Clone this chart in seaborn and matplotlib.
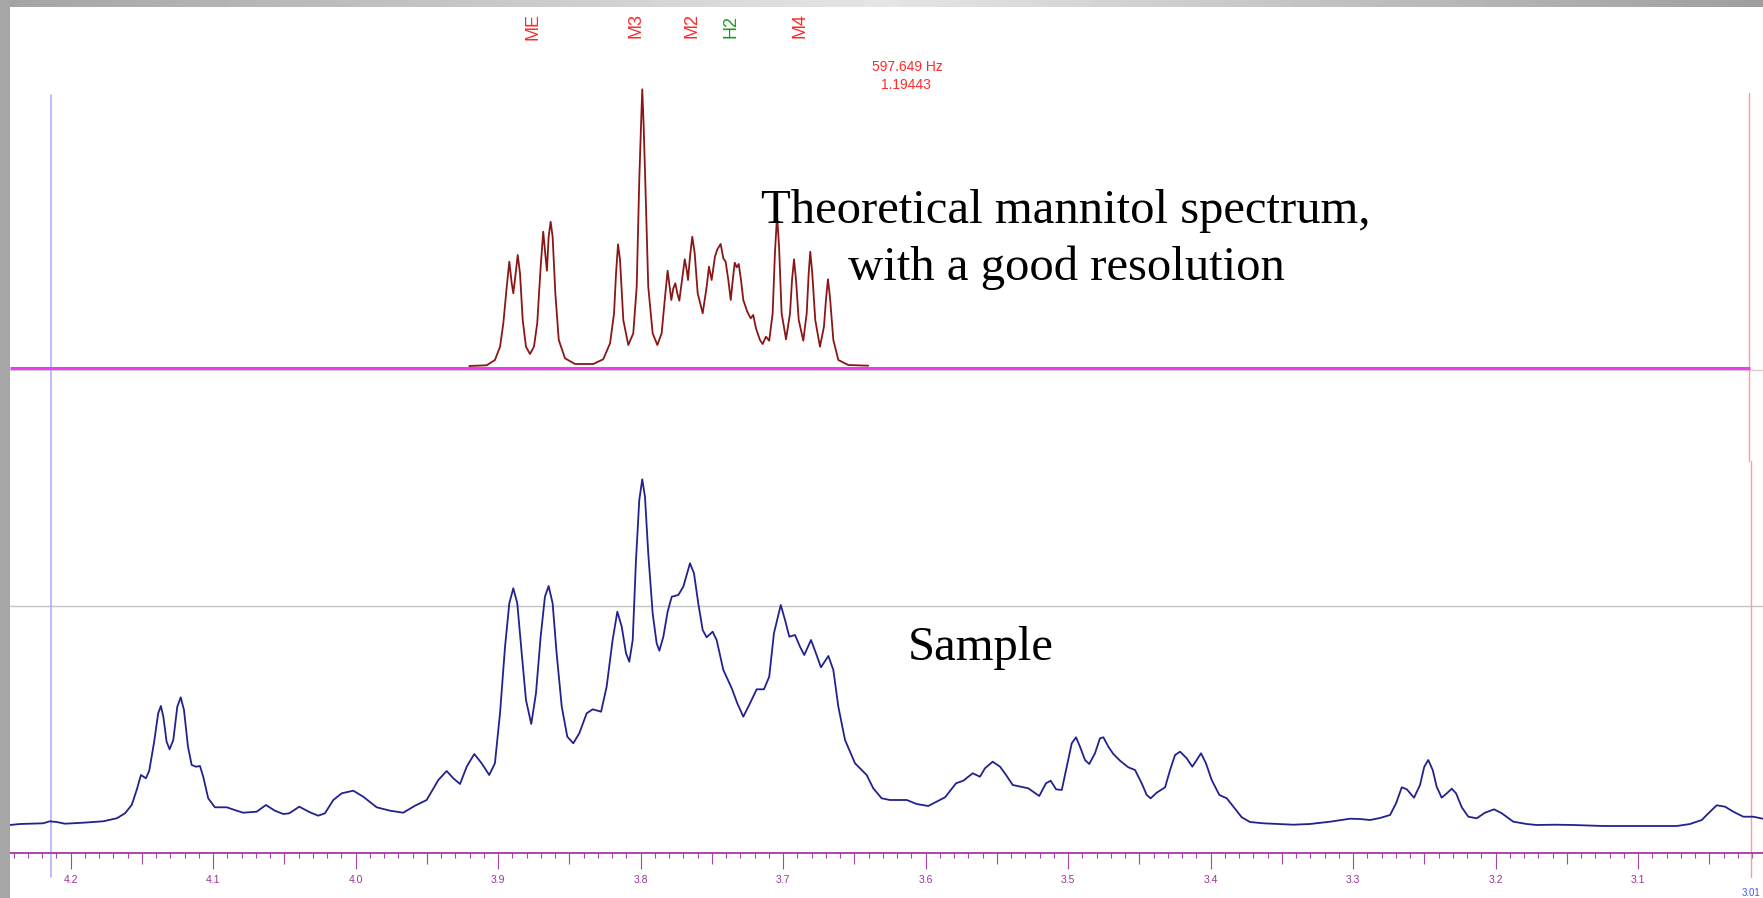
import numpy as np
import matplotlib
matplotlib.use("Agg")
import matplotlib.pyplot as plt
from matplotlib.ticker import MultipleLocator, FormatStrFormatter
from matplotlib.patches import Rectangle
import seaborn as sns

# ---------------- data ----------------
# Sample spectrum: chemical shift (ppm) and intensity (arbitrary units)
sample_ppm = [4.2425, 4.2355, 4.2192, 4.2145, 4.2098, 4.2039, 4.1911, 4.1771, 4.1676, 4.1618,
              4.1571, 4.1536, 4.1506, 4.1471, 4.1448, 4.1415, 4.1385, 4.1366, 4.1349, 4.1326,
              4.1305, 4.1279, 4.1251, 4.1227, 4.1204, 4.1176, 4.1150, 4.1120, 4.1092, 4.1069,
              4.1034, 4.0987, 4.0904, 4.0834, 4.0788, 4.0694, 4.0629, 4.0566, 4.0507, 4.0465,
              4.0395, 4.0320, 4.0262, 4.0215, 4.0156, 4.0097, 4.0016, 3.9946, 3.9852, 3.9758,
              3.9665, 3.9583, 3.9501, 3.9419, 3.9361, 3.9314, 3.9267, 3.9220, 3.9167, 3.9115,
              3.9062, 3.9022, 3.8986, 3.8951, 3.8921, 3.8893, 3.8865, 3.8834, 3.8804, 3.8767,
              3.8734, 3.8701, 3.8671, 3.8645, 3.8617, 3.8589, 3.8553, 3.8514, 3.8472, 3.8430,
              3.8378, 3.8336, 3.8277, 3.8238, 3.8196, 3.8163, 3.8132, 3.8102, 3.8079, 3.8055,
              3.8032, 3.8009, 3.7988, 3.7969, 3.7946, 3.7915, 3.7887, 3.7868, 3.7840, 3.7810,
              3.7781, 3.7735, 3.7700, 3.7653, 3.7625, 3.7595, 3.7564, 3.7536, 3.7494, 3.7466,
              3.7419, 3.7360, 3.7321, 3.7279, 3.7232, 3.7185, 3.7134, 3.7097, 3.7064, 3.7016,
              3.6986, 3.6956, 3.6916, 3.6881, 3.6851, 3.6804, 3.6769, 3.6734, 3.6682, 3.6647,
              3.6612, 3.6565, 3.6495, 3.6413, 3.6367, 3.6308, 3.6250, 3.6132, 3.6062, 3.5981,
              3.5863, 3.5786, 3.5735, 3.5669, 3.5618, 3.5583, 3.5529, 3.5477, 3.5435, 3.5388,
              3.5279, 3.5202, 3.5155, 3.5122, 3.5084, 3.5044, 3.5009, 3.4974, 3.4944, 3.4916,
              3.4881, 3.4851, 3.4811, 3.4776, 3.4752, 3.4717, 3.4682, 3.4635, 3.4577, 3.4530,
              3.4483, 3.4448, 3.4420, 3.4378, 3.4319, 3.4284, 3.4249, 3.4214, 3.4167, 3.4128,
              3.4097, 3.4067, 3.4032, 3.3992, 3.3938, 3.3886, 3.3840, 3.3781, 3.3723, 3.3630,
              3.3419, 3.3302, 3.3161, 3.3021, 3.2951, 3.2881, 3.2811, 3.2740, 3.2698, 3.2658,
              3.2623, 3.2572, 3.2530, 3.2500, 3.2472, 3.2441, 3.2413, 3.2378, 3.2342, 3.2307,
              3.2277, 3.2237, 3.2191, 3.2132, 3.2074, 3.2010, 3.1956, 3.1875, 3.1781, 3.1711,
              3.1582, 3.1454, 3.1244, 3.1009, 3.0728, 3.0635, 3.0553, 3.0506, 3.0448, 3.0389,
              3.0331, 3.0261, 3.0191, 3.0125]
sample_int = [0.0, 1.0, 1.7, 3.7, 3.0, 1.3, 2.3, 3.7, 6.7, 11.7,
              20.0, 35.0, 50.0, 46.7, 54.3, 81.7, 111.7, 119.0, 108.3, 83.3,
              75.7, 85.0, 118.3, 127.7, 115.0, 78.3, 60.0, 58.3, 59.0, 48.3,
              26.7, 17.7, 17.7, 14.3, 12.3, 13.3, 20.0, 14.3, 11.0, 11.7,
              18.3, 12.7, 9.3, 11.7, 25.0, 31.7, 34.3, 28.3, 17.7, 14.3,
              12.3, 19.3, 25.0, 45.0, 54.0, 46.7, 41.0, 58.3, 71.0, 61.7,
              50.0, 61.7, 112.0, 178.3, 221.7, 236.7, 221.7, 171.7, 125.0, 101.0,
              131.7, 188.3, 228.3, 239.0, 221.7, 171.7, 118.3, 88.3, 81.7, 91.7,
              111.7, 115.7, 113.3, 138.3, 185.0, 213.3, 198.3, 171.7, 163.3, 185.0,
              265.0, 325.0, 345.7, 328.3, 271.7, 211.7, 181.7, 174.3, 188.3, 213.3,
              228.3, 230.0, 238.3, 261.7, 251.7, 221.7, 195.0, 187.7, 193.3, 185.0,
              155.0, 136.7, 121.7, 108.3, 121.7, 135.7, 135.7, 148.3, 191.7, 220.0,
              205.0, 188.3, 190.0, 178.3, 170.0, 185.0, 171.7, 157.7, 169.0, 155.0,
              118.3, 85.0, 61.7, 50.0, 36.7, 26.7, 25.0, 25.0, 21.0, 19.0,
              27.7, 41.7, 44.3, 51.7, 48.3, 56.7, 63.3, 58.3, 50.0, 40.0,
              36.7, 29.0, 41.7, 44.3, 35.7, 35.0, 58.3, 81.7, 87.7, 78.3,
              65.0, 61.0, 71.7, 86.7, 87.7, 78.3, 71.0, 64.3, 57.7, 55.0,
              41.7, 30.0, 26.7, 32.3, 37.7, 55.0, 70.0, 73.3, 66.7, 58.3,
              65.0, 71.7, 61.7, 45.0, 30.0, 26.7, 18.3, 7.7, 3.0, 1.7,
              0.3, 1.0, 3.3, 6.3, 6.0, 5.0, 7.0, 10.0, 21.7, 37.7,
              35.7, 27.3, 40.0, 58.3, 65.0, 55.0, 38.3, 27.3, 31.7, 36.3,
              31.7, 17.7, 8.3, 6.7, 12.3, 15.7, 11.7, 3.3, 1.0, 0.0,
              0.3, 0.0, -1.0, -1.0, -1.0, 1.0, 5.0, 11.7, 19.7, 18.3,
              13.3, 8.3, 8.3, 6.3]

# Theoretical mannitol spectrum
theo_ppm = [3.9202, 3.9080, 3.9022, 3.8986, 3.8963, 3.8939, 3.8921, 3.8904, 3.8893, 3.8879,
            3.8862, 3.8846, 3.8827, 3.8804, 3.8776, 3.8748, 3.8725, 3.8701, 3.8683, 3.8669,
            3.8657, 3.8645, 3.8631, 3.8617, 3.8598, 3.8574, 3.8530, 3.8460, 3.8332, 3.8262,
            3.8214, 3.8186, 3.8172, 3.8158, 3.8144, 3.8121, 3.8086, 3.8051, 3.8027, 3.8009,
            3.7997, 3.7988, 3.7978, 3.7967, 3.7946, 3.7915, 3.7882, 3.7852, 3.7828, 3.7810,
            3.7796, 3.7784, 3.7770, 3.7756, 3.7742, 3.7728, 3.7709, 3.7690, 3.7676, 3.7667,
            3.7653, 3.7637, 3.7620, 3.7599, 3.7564, 3.7536, 3.7520, 3.7501, 3.7478, 3.7461,
            3.7438, 3.7419, 3.7403, 3.7384, 3.7367, 3.7353, 3.7339, 3.7325, 3.7311, 3.7295,
            3.7279, 3.7251, 3.7227, 3.7209, 3.7190, 3.7162, 3.7143, 3.7120, 3.7097, 3.7073,
            3.7057, 3.7042, 3.7028, 3.7010, 3.6979, 3.6951, 3.6937, 3.6923, 3.6909, 3.6890,
            3.6858, 3.6834, 3.6820, 3.6809, 3.6795, 3.6774, 3.6741, 3.6713, 3.6699, 3.6685,
            3.6671, 3.6647, 3.6612, 3.6542, 3.6402]
theo_int = [2.0, 2.7, 8.0, 21.3, 44.7, 81.3, 106.3, 84.7, 74.7, 91.3,
            113.0, 94.7, 48.0, 21.3, 14.0, 21.3, 44.7, 101.3, 136.3, 114.7,
            97.3, 131.3, 146.3, 131.3, 74.7, 28.0, 9.7, 4.0, 4.0, 8.7,
            24.7, 54.7, 94.7, 123.7, 108.0, 48.0, 23.0, 34.7, 81.3, 188.0,
            241.3, 278.7, 241.3, 188.0, 81.3, 34.7, 23.0, 34.7, 71.3, 97.3,
            81.3, 68.0, 79.7, 84.7, 74.7, 67.3, 88.0, 108.7, 98.0, 88.0,
            111.3, 131.3, 114.7, 74.7, 54.7, 81.3, 101.3, 88.0, 111.3, 118.7,
            124.0, 109.7, 106.3, 88.0, 68.0, 88.0, 105.3, 100.7, 104.0, 88.0,
            68.0, 56.3, 49.7, 53.0, 39.7, 28.0, 24.0, 31.3, 27.3, 54.7,
            114.7, 153.0, 121.3, 54.7, 28.7, 54.7, 88.0, 108.7, 88.0, 48.0,
            27.3, 54.7, 94.7, 116.3, 94.7, 48.0, 21.3, 41.3, 68.0, 88.7,
            71.3, 28.0, 8.0, 3.0, 2.3]

# Peak assignment labels (ppm) and their colours
assign_labels = ["ME", "M3", "M2", "H2", "M4"]
assign_ppm = [3.8757, 3.8035, 3.7636, 3.7362, 3.6880]
assign_colors = ["#ff2a2a", "#ff2a2a", "#ff2a2a", "#1f9a1f", "#ff2a2a"]

cursor_text = ["597.649 Hz", "1.19443"]
tick_label_fmt = "%.1f"

# ---------------- figure ----------------
W, H = 1763, 898
sns.set_style("white")
plt.rcParams["font.family"] = ["Liberation Sans", "DejaVu Sans"]
fig = plt.figure(figsize=(W / 100, H / 100), dpi=100)

left_px, top_px = 10, 7
ax = fig.add_axes([left_px / W, 0, 1 - left_px / W, (H - top_px) / H])
ax.set_xlim(4.2425, 3.0123)
ax.set_ylim(0, H - top_px)
for s in ["top", "left", "right"]:
    ax.spines[s].set_visible(False)
ax.set_yticks([])
ax.set_facecolor("white")

SAMPLE_BASE = 73      # vertical offset of the sample trace
THEO_BASE = 530       # vertical offset of the theoretical trace
AXIS_Y = 45.5

axis_col = "#a845a8"
ax.spines["bottom"].set_position(("data", AXIS_Y))
ax.spines["bottom"].set_color(axis_col)
ax.spines["bottom"].set_linewidth(1.4)
ax.xaxis.set_major_locator(MultipleLocator(0.1))
ax.xaxis.set_minor_locator(MultipleLocator(0.01))
ax.xaxis.set_major_formatter(FormatStrFormatter(tick_label_fmt))
ax.tick_params(axis="x", which="both", bottom=True, top=False)
ax.tick_params(axis="x", which="major", direction="out", length=11.5, width=0.8,
               color=axis_col, labelcolor="#9a339a", labelsize=7.5, pad=4.5)
ax.tick_params(axis="x", which="minor", direction="out", length=3.6, width=0.8,
               color=axis_col)
sec = ax.secondary_xaxis(AXIS_Y / (H - top_px))
sec.set_xticks(np.arange(3.05, 4.2, 0.1))
sec.tick_params(axis="x", which="both", bottom=True, top=False, direction="out",
                length=8, width=0.8, color=axis_col,
                labelbottom=False, labeltop=False)
for s in sec.spines.values():
    s.set_visible(False)

# reference lines
ax.axhline(SAMPLE_BASE + 219, color="#c4c4c4", lw=1.0, zorder=1)
ax.axhline(THEO_BASE - 2, color="#d0d0d0", lw=1.0, zorder=1)
ax.plot([4.2425, 3.0214], [THEO_BASE, THEO_BASE], color="#ee3cee", lw=2.2, zorder=2,
        solid_capstyle="butt")
ax.plot([4.2138, 4.2138], [21, 803], color="#a8a8ff", lw=1.1, zorder=1)
ax.plot([3.0221, 3.0221], [437, 805], color="#ff9a9a", lw=1.0, zorder=1)
ax.plot([3.0207, 3.0207], [21, 437], color="#ff9a9a", lw=1.0, zorder=1)

# spectra
sns.lineplot(x=sample_ppm, y=np.array(sample_int) + SAMPLE_BASE, ax=ax, sort=False,
             estimator=None, color="#22228f", lw=1.3, zorder=3)
sns.lineplot(x=theo_ppm, y=np.array(theo_int) + THEO_BASE, ax=ax, sort=False,
             estimator=None, color="#8a1616", lw=1.3, zorder=3)

# assignment labels
for lab, p, c in zip(assign_labels, assign_ppm, assign_colors):
    ax.text(p, 872, lab, rotation=90, ha="center", va="center", color=c,
            fontsize=13, family=["Liberation Sans Narrow", "Liberation Sans"])

ax.text(3.6127, 831, cursor_text[0], ha="center", va="center", color="#ff2a2a",
        fontsize=10, family=["Liberation Sans Narrow", "Liberation Sans"])
ax.text(3.6140, 813, cursor_text[1], ha="center", va="center", color="#ff2a2a",
        fontsize=10, family=["Liberation Sans Narrow", "Liberation Sans"])

serif = ["Liberation Serif", "DejaVu Serif"]
ax.text(3.5014, 675, "Theoretical mannitol spectrum,", ha="center", va="baseline",
        fontsize=35, family=serif, color="black")
ax.text(3.5014, 618, "with a good resolution", ha="center", va="baseline",
        fontsize=35, family=serif, color="black")
ax.text(3.5611, 238, "Sample", ha="center", va="baseline", fontsize=35,
        family=serif, color="black")

fig.text(1751 / W, 1 - 893 / H, "3.01", ha="center", va="center", color="#3b5bff",
         fontsize=7)

# window chrome: grey left strip and gradient title strip
fig.patches.append(Rectangle((0, 0), left_px / W, 1, transform=fig.transFigure,
                             facecolor="#a6a6a6", edgecolor="none", zorder=10))
gax = fig.add_axes([0, 1 - top_px / H, 1, top_px / H])
xs = np.linspace(0, 1, 400)
grad = np.interp(xs, [0, 0.5, 1], [0.64, 0.9, 0.62])
gax.imshow(grad[None, :], cmap="gray", vmin=0, vmax=1, aspect="auto",
           extent=[0, 1, 0, 1])
gax.axis("off")

fig.savefig("out.png", dpi=100)
